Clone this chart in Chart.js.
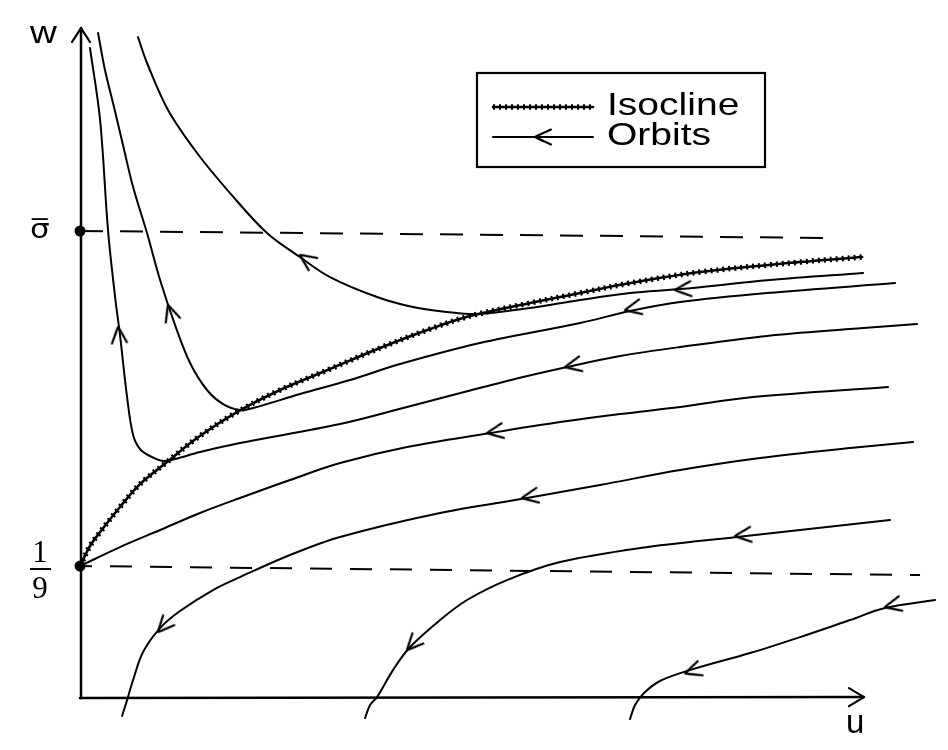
<!DOCTYPE html>
<html><head><meta charset="utf-8">
<script src="https://cdn.jsdelivr.net/npm/chart.js@4.4.1/dist/chart.umd.min.js"></script>
<style>html,body{margin:0;padding:0;background:#fff;}canvas{display:block;}</style>
</head><body>
<canvas id="c" width="948" height="750"></canvas>
<script>
// ---- axis / tick labels ----
const axisLabels = { u: 'u', w: 'w' };
const wTickLabels = ['σ\u0305', '1/9'];
const wTickValues = [0.3892, 0.11];
const legendLabels = ['Isocline', 'Orbits'];

// ---- isocline ----
const isoU = [0, 0.0083, 0.0167, 0.0333, 0.05, 0.0725, 0.0975, 0.1308, 0.1667, 0.2083, 0.25, 0.2917, 0.325, 0.375, 0.4167, 0.4583, 0.5167, 0.6, 0.6517];
const isoW = [0.11, 0.1267, 0.1383, 0.1592, 0.1783, 0.1967, 0.2167, 0.2383, 0.2567, 0.2742, 0.2917, 0.3075, 0.3183, 0.3292, 0.3375, 0.3458, 0.355, 0.3633, 0.3675];

// ---- orbits ----
const orbitAU = [0.0083, 0.0167, 0.0233, 0.0292, 0.0333, 0.0392, 0.0442, 0.05, 0.0583, 0.0692, 0.0792, 0.1, 0.1333, 0.2167, 0.2725, 0.3558, 0.4058, 0.45, 0.5, 0.5725, 0.6417, 0.6975];
const orbitAW = [0.5417, 0.4817, 0.39, 0.3342, 0.3025, 0.2508, 0.2192, 0.2075, 0.2017, 0.1975, 0.1992, 0.205, 0.2125, 0.2283, 0.2425, 0.2642, 0.2758, 0.285, 0.2925, 0.3017, 0.3075, 0.3117];

const orbitBU = [0.015, 0.0208, 0.0275, 0.0358, 0.0442, 0.0558, 0.0667, 0.0792, 0.0917, 0.1058, 0.1192, 0.1333, 0.1442, 0.1833, 0.225, 0.2667, 0.3333, 0.4167, 0.4583, 0.5, 0.5725, 0.6792];
const orbitBW = [0.5542, 0.5233, 0.4958, 0.4608, 0.4258, 0.3875, 0.3483, 0.3108, 0.2792, 0.2567, 0.245, 0.24, 0.2417, 0.2533, 0.265, 0.2783, 0.2958, 0.3125, 0.3225, 0.33, 0.3375, 0.3458];

const orbitCU = [0.0483, 0.0558, 0.0733, 0.0975, 0.125, 0.1558, 0.1833, 0.2083, 0.2475, 0.2775, 0.3058, 0.3308, 0.375, 0.4167, 0.4583, 0.5, 0.575, 0.6525];
const orbitCW = [0.5508, 0.5292, 0.49, 0.4542, 0.4208, 0.3875, 0.3675, 0.3508, 0.3342, 0.3258, 0.3217, 0.32, 0.325, 0.3317, 0.3375, 0.3408, 0.3483, 0.3542];

const orbitDU = [0, 0.0333, 0.0667, 0.1, 0.1333, 0.175, 0.2167, 0.2725, 0.3417, 0.4, 0.45, 0.5, 0.5608, 0.6733];
const orbitDW = [0.11, 0.1258, 0.14, 0.1542, 0.1667, 0.1817, 0.1958, 0.2092, 0.2208, 0.23, 0.2367, 0.2425, 0.2508, 0.2592];

const orbitEU = [0.035, 0.0392, 0.0442, 0.0525, 0.0667, 0.0833, 0.1108, 0.1333, 0.175, 0.2167, 0.3, 0.3725, 0.4333, 0.5, 0.5667, 0.6417, 0.6942];
const orbitEW = [-0.015, -0.0017, 0.015, 0.0383, 0.0583, 0.0725, 0.09, 0.1008, 0.1192, 0.1342, 0.1542, 0.1667, 0.1775, 0.19, 0.2, 0.2083, 0.2133];

const orbitFU = [0.2375, 0.2417, 0.2475, 0.2608, 0.275, 0.3, 0.3225, 0.3558, 0.4, 0.4667, 0.5475, 0.675];
const orbitFW = [-0.0167, -0.0058, 0.0008, 0.0233, 0.0425, 0.065, 0.0817, 0.0983, 0.1133, 0.125, 0.1342, 0.1483];

const orbitGU = [0.4583, 0.4625, 0.47, 0.4833, 0.5083, 0.5583, 0.6, 0.6417, 0.6708, 0.7125];
const orbitGW = [-0.0175, -0.0058, 0.0042, 0.0142, 0.0233, 0.0375, 0.0508, 0.065, 0.075, 0.0817];

// ---- flow direction arrows (position + flow angle in degrees) ----
const arrowU = [0.0317, 0.0733, 0.1833, 0.4958, 0.4542, 0.4042, 0.3392, 0.3683, 0.5458, 0.6708, 0.5042, 0.2725, 0.065];
const arrowW = [0.3092, 0.3275, 0.3692, 0.34, 0.3233, 0.2758, 0.2208, 0.1667, 0.135, 0.0758, 0.0205, 0.04, 0.055];
const arrowAngle = [95, 108, 145, 185, 192, 192, 189, 190, 186, 193, 199, 227, 228];

// ---- reference levels ----
const sigmaLineU = [0, 0.6333];
const sigmaLineW = [0.3892, 0.3833];
const ninthLineU = [0, 0.7];
const ninthLineW = [0.11, 0.1025];
const dotU = [0, 0];
const dotW = [0.3892, 0.11];

// ---- axes ----
const wAxisU = [0, 0.0008];
const wAxisW = [0, 0.5583];
const uAxisU = [0, 0.6533];
const uAxisW = [0, 0.0008];
const wArrowU = [-0.0067, 0.0008, 0.0083];
const wArrowW = [0.5467, 0.5583, 0.5467];
const uArrowU = [0.6408, 0.6533, 0.6408];
const uArrowW = [0.0083, 0.0008, -0.0067];

const pts = (us, ws) => us.map((u, i) => ({ x: u, y: ws[i] }));

// chevron image used as point style
function makeChevron() {
  const c = document.createElement('canvas');
  c.width = 44; c.height = 44;
  const g = c.getContext('2d');
  g.strokeStyle = '#000'; g.lineWidth = 2; g.lineCap = 'round'; g.lineJoin = 'round';
  g.beginPath();
  g.moveTo(22 + 16, 22 - 7.5);
  g.quadraticCurveTo(27, 19.5, 22, 22);
  g.quadraticCurveTo(27, 24.5, 22 + 16, 22 + 7.5);
  g.stroke();
  return c;
}
const chevron = makeChevron();

const line = (data, extra) => Object.assign({
  data, showLine: true, pointRadius: 0, borderColor: '#000', borderWidth: 2,
  tension: 0.35, borderJoinStyle: 'round', borderCapStyle: 'round', fill: false
}, extra || {});

const datasets = [
  line(pts(isoU, isoW), { borderWidth: 5.5, borderDash: [2, 4], borderCapStyle: 'butt' }),
  line(pts(isoU, isoW), { borderWidth: 2.6 }),
  line(pts(orbitAU, orbitAW)),
  line(pts(orbitBU, orbitBW)),
  line(pts(orbitCU, orbitCW)),
  line(pts(orbitDU, orbitDW)),
  line(pts(orbitEU, orbitEW)),
  line(pts(orbitFU, orbitFW)),
  line(pts(orbitGU, orbitGW)),
  line(pts(sigmaLineU, sigmaLineW), { tension: 0, borderDash: [23, 17], borderCapStyle: 'butt' }),
  line(pts(ninthLineU, ninthLineW), { tension: 0, borderDash: [22, 18], borderDashOffset: 10, borderCapStyle: 'butt' }),
  line(pts(wAxisU, wAxisW), { tension: 0, borderWidth: 2.5 }),
  line(pts(uAxisU, uAxisW), { tension: 0, borderWidth: 2.5 }),
  line(pts(wArrowU, wArrowW), { tension: 0, borderWidth: 2.2 }),
  line(pts(uArrowU, uArrowW), { tension: 0, borderWidth: 2.2 }),
  { data: pts(dotU, dotW), showLine: false, pointRadius: 5.5, pointBackgroundColor: '#000', pointBorderColor: '#000', pointBorderWidth: 0 },
  { data: pts(arrowU, arrowW), showLine: false, pointRadius: 8, pointStyle: chevron,
    pointRotation: (ctx) => -arrowAngle[ctx.dataIndex] - 180 }
];

function stretchedText(ctx, text, x, y, font, sx) {
  ctx.save();
  ctx.font = font;
  ctx.translate(x, y);
  ctx.scale(sx, 1);
  ctx.fillText(text, 0, 0);
  ctx.restore();
}

const textPlugin = {
  id: 'texts',
  afterDraw(chart) {
    const ctx = chart.ctx;
    const xs = chart.scales.x, ys = chart.scales.y;
    ctx.save();
    ctx.fillStyle = '#000';
    ctx.strokeStyle = '#000';
    ctx.textBaseline = 'alphabetic';
    ctx.textAlign = 'left';

    // axis names
    const wTop = ys.getPixelForValue(wAxisW[1]);
    stretchedText(ctx, axisLabels.w, 30, wTop + 15, '31px "Liberation Sans", Arial, sans-serif', 1.2);
    const uEnd = xs.getPixelForValue(uAxisU[1]);
    stretchedText(ctx, axisLabels.u, uEnd - 18, 733, '33px "Liberation Sans", Arial, sans-serif', 1.0);

    // tick: sigma with overbar
    const ySig = ys.getPixelForValue(wTickValues[0]);
    stretchedText(ctx, wTickLabels[0], 30, ySig + 7, '27px "DejaVu Sans", sans-serif', 1.15);

    // tick: 1/9 as stacked fraction
    const yN = ys.getPixelForValue(wTickValues[1]) + 3;
    const parts = wTickLabels[1].split('/');
    ctx.font = '31px "Liberation Serif", "Times New Roman", serif';
    ctx.textAlign = 'center';
    ctx.fillText(parts[0], 40, yN - 7);
    ctx.fillText(parts[1], 40, yN + 29);
    ctx.lineWidth = 2;
    ctx.beginPath(); ctx.moveTo(30, yN); ctx.lineTo(51, yN); ctx.stroke();
    ctx.textAlign = 'left';

    // legend box
    ctx.lineWidth = 2.2;
    ctx.strokeRect(477, 73, 288, 94);
    // isocline sample
    ctx.lineCap = 'round';
    ctx.lineWidth = 2.6;
    ctx.beginPath(); ctx.moveTo(493, 107); ctx.lineTo(593, 107); ctx.stroke();
    ctx.save();
    ctx.lineCap = 'butt'; ctx.lineWidth = 5.5; ctx.setLineDash([2, 4]);
    ctx.beginPath(); ctx.moveTo(493, 107); ctx.lineTo(593, 107); ctx.stroke();
    ctx.restore();
    // orbit sample
    ctx.lineWidth = 2;
    ctx.beginPath(); ctx.moveTo(493, 137); ctx.lineTo(593, 137); ctx.stroke();
    ctx.drawImage(chevron, 535 - 22, 137 - 22);
    stretchedText(ctx, legendLabels[0], 607, 115, '32px "Liberation Sans", Arial, sans-serif', 1.22);
    stretchedText(ctx, legendLabels[1], 607, 145, '32px "Liberation Sans", Arial, sans-serif', 1.22);
    ctx.restore();
  }
};

new Chart(document.getElementById('c'), {
  type: 'scatter',
  data: { datasets },
  options: {
    responsive: false,
    animation: false,
    layout: { padding: 0, autoPadding: false },
    plugins: { legend: { display: false }, tooltip: { enabled: false } },
    events: [],
    scales: {
      x: { type: 'linear', display: false, min: -0.0667, max: 0.7233 },
      y: { type: 'linear', display: false, min: -0.0433, max: 0.5817 }
    }
  },
  plugins: [textPlugin]
});
</script>
</body></html>
